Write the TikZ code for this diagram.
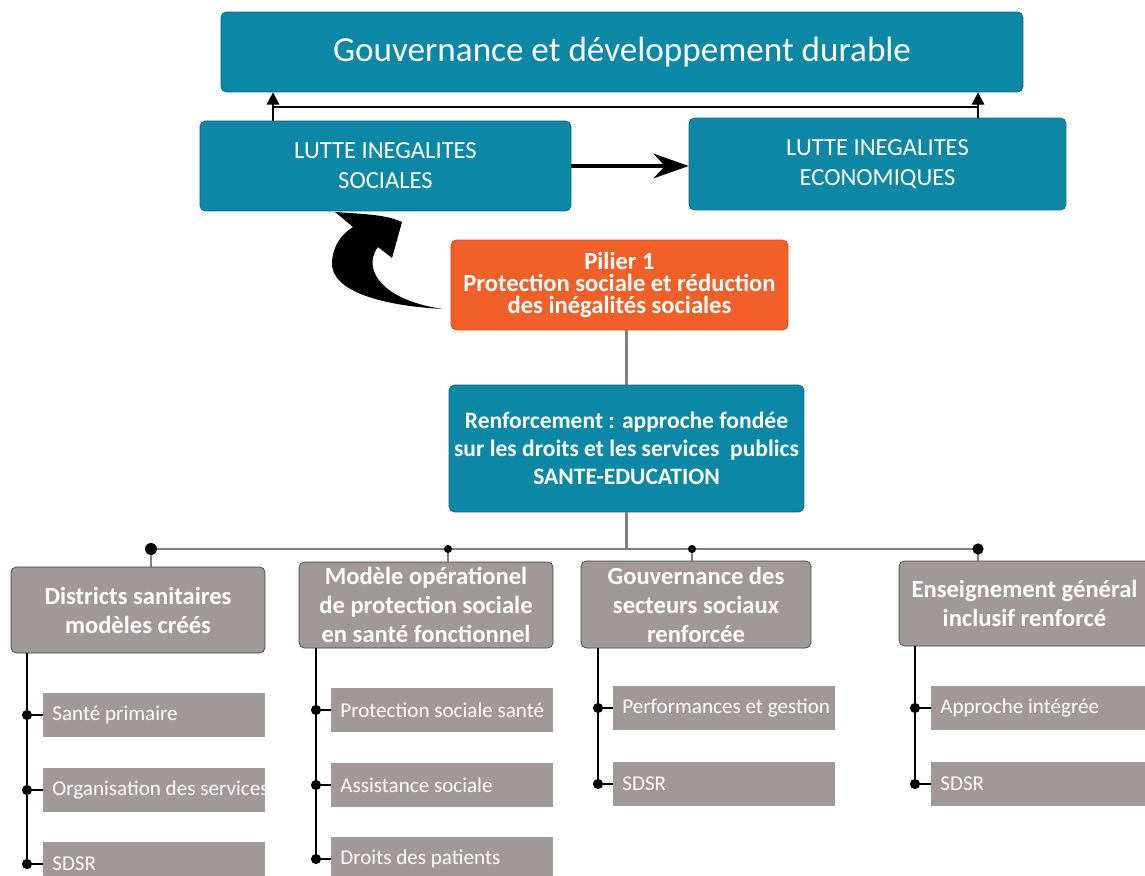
\documentclass[tikz,border=0pt]{standalone}
\usepackage{fontspec}
\setmainfont{Carlito}
\usetikzlibrary{arrows.meta}
\definecolor{bleu}{RGB}{12,135,166}
\definecolor{pilorange}{RGB}{240,96,40}
\definecolor{gris}{RGB}{161,153,151}
\newcommand\leaftext[1]{\makebox[4.08cm][l]{#1}}
\tikzset{
  tealbox/.style={draw=bleu!75!black, fill=bleu, rounded corners=3pt, text=white, align=center, inner sep=0pt},
  pilbox/.style={draw=pilorange!80!black, fill=pilorange, rounded corners=3pt, text=white, align=center, inner sep=0pt},
  graybox/.style={draw=black!75, fill=gris, rounded corners=3pt, text=white, align=center, inner sep=0pt,
    font=\fontsize{14}{16.5}\selectfont\bfseries},
  leaf/.style={fill=gris, text=white, anchor=west, minimum height=.88cm, inner xsep=.18cm,
    font=\fontsize{12}{14}\selectfont},
  grayline/.style={draw=black!50, line width=1.6pt},
  blackline/.style={draw=black, line width=1.6pt},
}
\begin{document}
\begin{tikzpicture}[x=.02cm, y=-.02cm]
\useasboundingbox (0,0) rectangle (1145,875);
\clip (0,0) rectangle (1145,875);

% top level
\node[tealbox, minimum width=16.04cm, minimum height=1.6cm, font=\fontsize{20}{24}\selectfont] (gouv) at (622,52) {Gouvernance et développement durable};
\node[tealbox, minimum width=7.42cm, minimum height=1.8cm, font=\fontsize{14}{17}\selectfont] (soc) at (385.5,166) {LUTTE INEGALITES\\SOCIALES};
\node[tealbox, minimum width=7.54cm, minimum height=1.84cm, font=\fontsize{14}{17}\selectfont] (eco) at (877.5,164) {LUTTE INEGALITES\\ECONOMIQUES};

\coordinate (us) at (273,107);
\coordinate (ue) at (978,107);
\draw[line width=1.4pt] (us |- soc.north) -- (us) -- (ue) -- (ue |- eco.north);
\draw[line width=1.4pt, -{Triangle[length=7pt,width=7pt]}] (us) -- (us |- gouv.south);
\draw[line width=1.4pt, -{Triangle[length=7pt,width=7pt]}] (ue) -- (ue |- gouv.south);
\draw[line width=2.3pt, -{Stealth[length=20pt,width=14pt]}] (soc.east) -- (soc.east -| eco.west);

% pilier and curved arrow
\node[pilbox, minimum width=6.74cm, minimum height=1.8cm, font=\fontsize{14}{12.5}\selectfont\bfseries] (pil) at (619.5,285) {Pilier 1\\Protection sociale et réduction\\des inégalités sociales};
\fill (443,309) .. controls (385,306) and (330,292) .. (332,262)
  .. controls (333,245) and (342,234) .. (353,227) -- (335,212)
  .. controls (360,214) and (385,214) .. (402,222) -- (392,258) -- (378,247)
  .. controls (362,268) and (380,300) .. (443,309) -- cycle;

\node[tealbox, minimum width=7.1cm, minimum height=2.54cm, font=\fontsize{13.4}{16}\selectfont\bfseries] (renf) at (626.5,448.5) {Renforcement : approche fondée\\sur les droits et les services\ \ publics\\SANTE-EDUCATION};
\draw[grayline] (renf.north |- pil.south) -- (renf.north);

% second level
\node[graybox, minimum width=5.08cm, minimum height=1.72cm] (d1) at (138,610) {Districts sanitaires\\modèles créés};
\node[graybox, minimum width=5.08cm, minimum height=1.72cm] (d2) at (426,605) {Modèle opérationel\\de protection sociale\\en santé fonctionnel};
\node[graybox, minimum width=4.6cm, minimum height=1.74cm] (d3) at (696,604.5) {Gouvernance des\\secteurs sociaux\\renforcée};
\node[graybox, minimum width=5.02cm, minimum height=1.7cm] (d4) at (1024.5,603.5) {Enseignement général\\inclusif renforcé};

\coordinate (b1) at (151,549);
\coordinate (b2) at (448,549);
\coordinate (b3) at (692,549);
\coordinate (b4) at (978,549);
\draw[grayline] (renf.south) -- (renf.south |- b1);
\draw[grayline] (b1) -- (b4);
\draw[grayline, line width=1pt] (b1) -- (b1 |- d1.north);
\draw[grayline, line width=1pt] (b2) -- (b2 |- d2.north);
\draw[grayline, line width=1pt] (b3) -- (b3 |- d3.north);
\draw[grayline, line width=1pt] (b4) -- (b4 |- d4.north);
\fill (b1) circle (3.4pt) (b4) circle (3.2pt) (b2) circle (2.3pt) (b3) circle (2.3pt);

% leaves
\node[leaf] (l11) at (43,715) {\leaftext{Santé primaire}};
\node[leaf] (l12) at (43,790) {\leaftext{Organisation des services}};
\node[leaf] (l13) at (43,864) {\leaftext{SDSR}};
\node[leaf] (l21) at (331,710) {\leaftext{Protection sociale santé}};
\node[leaf] (l22) at (331,785) {\leaftext{Assistance sociale}};
\node[leaf] (l23) at (331,859) {\leaftext{Droits des patients}};
\node[leaf] (l31) at (613,708) {\leaftext{Performances et gestion}};
\node[leaf] (l32) at (613,784) {\leaftext{SDSR}};
\node[leaf] (l41) at (931,708) {\leaftext{Approche intégrée}};
\node[leaf] (l42) at (931,784) {\leaftext{SDSR}};

\coordinate (c1) at (27,0);
\coordinate (c2) at (316,0);
\coordinate (c3) at (598,0);
\coordinate (c4) at (915,0);
\draw[blackline] (c1 |- d1.south) -- (c1 |- l13.west);
\draw[blackline] (c2 |- d2.south) -- (c2 |- l23.west);
\draw[blackline] (c3 |- d3.south) -- (c3 |- l32.west);
\draw[blackline] (c4 |- d4.south) -- (c4 |- l42.west);
\foreach \c/\l in {c1/l11,c1/l12,c1/l13,c2/l21,c2/l22,c2/l23,c3/l31,c3/l32,c4/l41,c4/l42}{
  \draw[blackline] (\c |- \l.west) -- (\l.west);
  \fill (\c |- \l.west) circle (2.9pt);
}
\end{tikzpicture}
\end{document}
